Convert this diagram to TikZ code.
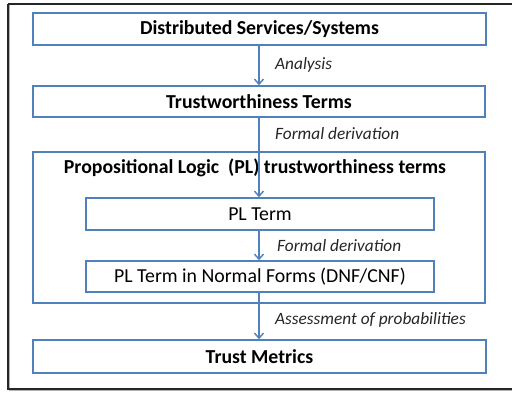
\documentclass[tikz,border=0pt]{standalone}
\usepackage{fontspec}
\setmainfont{Carlito}
\usetikzlibrary{arrows.meta}
\definecolor{flowblue}{HTML}{4F81BD}
\definecolor{framegray}{HTML}{262626}
\tikzset{
  box/.style={draw=flowblue, line width=1.6pt, rectangle, inner sep=0pt, fill=white},
  boldtext/.style={font=\fontsize{19.8}{23}\selectfont\bfseries},
  plaintext/.style={font=\fontsize{19.8}{23}\selectfont},
  steplabel/.style={font=\fontsize{17.3}{20}\selectfont\itshape, anchor=west, inner sep=0pt, text=black!85},
  flow/.style={draw=flowblue, line width=1.4pt, -{Straight Barb[length=5pt,width=9pt,line width=1.4pt]}}
}
\begin{document}
\begin{tikzpicture}[x=1pt,y=-1pt]
  \useasboundingbox (0,0) rectangle (512,395);
  \fill[white] (0,0) rectangle (512,395);
  % outer frame with a soft shadow
  \draw[gray!60, line width=1.2pt] (9.5,5.5) -- (9.5,390.5) -- (516,390.5);
  \draw[framegray, line width=1.3pt] (8,4) -- (8,389) -- (516,389);
  \draw[framegray, line width=1.3pt] (8,4) -- (516,4);

  % boxes
  \node[box, minimum width=453pt, minimum height=32pt, boldtext] (dist) at (259.5,29) {Distributed Services/Systems};
  \node[box, minimum width=452pt, minimum height=31pt, boldtext] (tw) at (259,101.5) {Trustworthiness Terms};
  \node[box, minimum width=452pt, minimum height=151pt] (pl) at (259,227.5) {};
  \node[boldtext, inner sep=0pt] (pltitle) at (255,168) {Propositional Logic\ \ (PL) trustworthiness terms};
  \node[box, minimum width=348pt, minimum height=32pt, plaintext] (term) at (260,214) {PL Term};
  \node[box, minimum width=348pt, minimum height=31pt, plaintext] (nf) at (260,276.5) {PL Term in Normal Forms (DNF/CNF)};
  \node[box, minimum width=453pt, minimum height=33pt, boldtext] (tm) at (259.5,356.5) {Trust Metrics};

  % connectors
  \draw[flow] (dist.south -| 259,0) -- (tw.north -| 259,0);
  \draw[flow] (tw.south -| 259,0) -- (term.north -| 259,0);
  \draw[flow] (term.south -| 259,0) -- (nf.north -| 259,0);
  \draw[flow] (nf.south -| 259,0) -- (tm.north -| 259,0);

  % step labels
  \node[steplabel] (l1) at (275,65) {Analysis};
  \node[steplabel] (l2) at (275,134) {Formal derivation};
  \node[steplabel] (l3) at (277,246) {Formal derivation};
  \node[steplabel] (l4) at (275,320) {Assessment of probabilities};
\end{tikzpicture}
\end{document}
